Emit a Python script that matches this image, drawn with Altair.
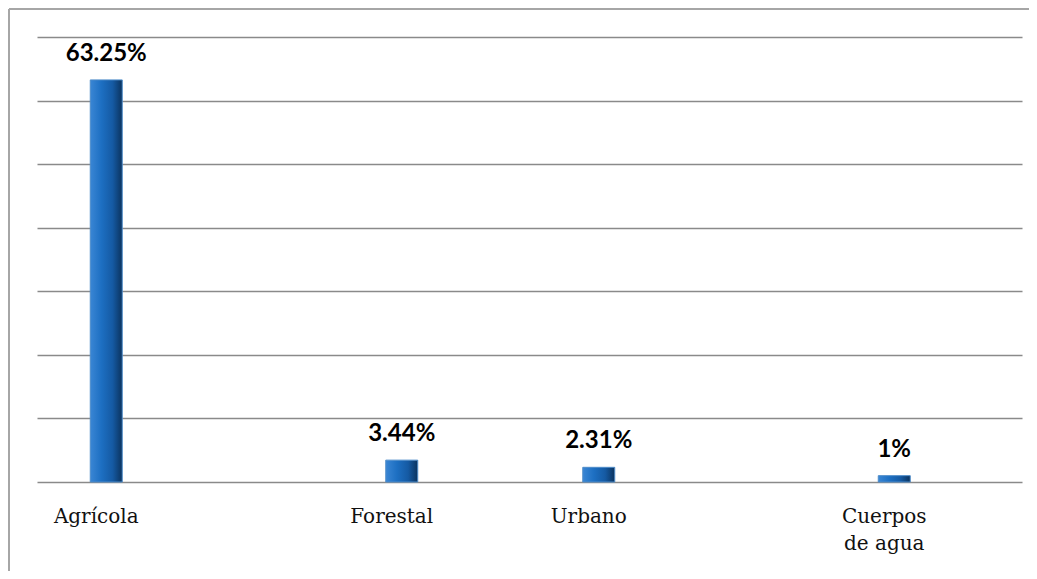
import altair as alt
import pandas as pd

slots = ["Agrícola", "_1", "_2", "Forestal", "_4", "Urbano", "_6", "_7", "Cuerpos de agua", "_9"]
categories = ["Agrícola", "Forestal", "Urbano", "Cuerpos de agua"]
values = [63.25, 3.44, 2.31, 1.0]
value_labels = ["63.25%", "3.44%", "2.31%", "1%"]

df = pd.DataFrame({"cat": categories, "val": values, "lab": value_labels})

W, H = 985, 445

x_enc = alt.X(
    "cat:N",
    sort=slots,
    scale=alt.Scale(domain=slots, paddingInner=0, paddingOuter=0),
    axis=alt.Axis(
        title=None, domain=False, ticks=False, grid=False,
        labelExpr="indexof(datum.label, '_') == 0 ? '' : (datum.label == 'Cuerpos de agua' ? ['Cuerpos', 'de agua'] : datum.label)",
        labelFont="DejaVu Serif", labelFontSize=20, labelColor="#111111",
        labelPadding=24, labelLineHeight=27, labelOffset=10, labelAngle=0,
        labelBaseline="top",
    ),
)
y_enc = alt.Y(
    "val:Q",
    scale=alt.Scale(domain=[0, 70], nice=False),
    axis=alt.Axis(
        title=None, labels=False, ticks=False, domain=False,
        values=[0, 10, 20, 30, 40, 50, 60, 70],
        gridColor="#8a8a8a", gridWidth=1.6,
    ),
)

gradient = alt.LinearGradient(
    gradient="linear", x1=0, x2=1, y1=0, y2=0,
    stops=[
        alt.GradientStop(offset=0, color="#3a86d4"),
        alt.GradientStop(offset=0.35, color="#1d6fc2"),
        alt.GradientStop(offset=0.7, color="#155aa3"),
        alt.GradientStop(offset=1, color="#0b335e"),
    ],
)

bars = alt.Chart(df).mark_bar(
    size=32, xOffset=20, color=gradient, stroke="#4f8cc9", strokeWidth=1
).encode(x=x_enc, y=y_enc)

texts = alt.Chart(df).mark_text(
    xOffset=20, dy=-19, baseline="alphabetic", align="center",
    font="Lato", fontWeight="bold", fontSize=24, color="#000000"
).encode(x=x_enc, y=y_enc, text="lab:N")

frame_df = pd.DataFrame({"a": [0]})
frame_top = alt.Chart(frame_df).mark_rule(color="#a6a6a6", strokeWidth=2).encode(
    x=alt.value(-28), x2=alt.value(W + 10), y=alt.value(-28)
)
frame_left = alt.Chart(frame_df).mark_rule(color="#a6a6a6", strokeWidth=2).encode(
    x=alt.value(-28), y=alt.value(-28), y2=alt.value(H + 95)
)

chart = alt.layer(bars, texts, frame_top, frame_left).properties(
    width=W, height=H,
    autosize=alt.AutoSizeParams(type="none"),
    padding={"left": 29, "top": 29, "right": 7, "bottom": 89},
    background="white",
).configure_view(stroke=None)

chart.save("out.html", embed_options={"renderer": "svg", "actions": False})
